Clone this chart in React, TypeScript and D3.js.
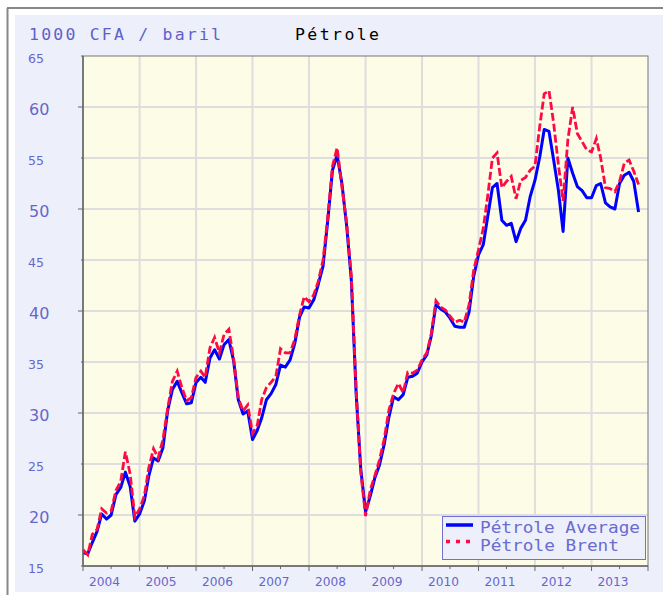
import * as d3 from "d3";

// monthly points, Jan 2004 .. Nov 2013
const months = d3.timeMonth.range(new Date(2004, 0, 1), new Date(2013, 11, 1));

const averageValues = [
  16.3, 16.2, 17.3, 18.4, 20.1, 19.6, 20.0, 22.0, 22.7, 24.2, 22.8, 19.4, // 2004
  20.1, 21.4, 23.8, 25.6, 25.3, 26.6, 30.2, 32.3, 33.1, 32.0, 30.9, 31.0, // 2005
  33.0, 33.5, 33.0, 35.4, 36.2, 35.3, 36.7, 37.2, 35.1, 31.3, 29.9, 30.2, // 2006
  27.4, 28.3, 29.5, 31.3, 31.9, 32.8, 34.7, 34.5, 35.2, 36.8, 39.4, 40.4, // 2007
  40.3, 41.1, 42.6, 44.4, 48.8, 53.8, 55.3, 52.5, 48.3, 43.0, 31.9, 24.5, // 2008
  20.3, 21.9, 23.6, 24.9, 26.9, 29.6, 31.6, 31.3, 31.8, 33.5, 33.6, 33.9, // 2009
  35.0, 35.7, 37.5, 40.6, 40.2, 39.9, 39.3, 38.5, 38.4, 38.4, 39.9, 43.4, // 2010
  45.5, 46.5, 49.2, 52.1, 52.5, 48.9, 48.4, 48.6, 46.8, 48.1, 48.9, 51.2, // 2011
  52.8, 55.1, 57.8, 57.6, 54.8, 51.8, 47.8, 55.0, 53.5, 52.2, 51.8, 51.1, // 2012
  51.1, 52.3, 52.5, 50.6, 50.2, 50.0, 52.5, 53.3, 53.6, 52.7, 49.7,       // 2013
];

const brentValues = [
  16.6, 16.1, 18.1, 18.6, 20.6, 20.2, 20.4, 22.4, 23.3, 26.2, 24.0, 19.8, // 2004
  20.6, 21.9, 24.6, 26.5, 25.6, 27.4, 30.4, 33.1, 34.1, 32.5, 31.2, 31.5, // 2005
  33.5, 34.1, 33.5, 36.4, 37.4, 35.9, 37.7, 38.2, 35.3, 31.5, 30.2, 30.8, // 2006
  28.0, 28.8, 31.3, 32.5, 33.0, 33.6, 36.3, 35.9, 35.9, 37.2, 39.6, 41.4, // 2007
  40.9, 41.6, 42.9, 45.0, 49.1, 54.2, 56.0, 52.2, 48.6, 43.4, 32.3, 24.2, // 2008
  19.9, 22.5, 23.8, 25.4, 27.4, 30.3, 31.9, 32.9, 32.0, 34.0, 33.9, 34.2, // 2009
  35.2, 35.9, 37.7, 41.0, 40.4, 40.1, 39.5, 38.9, 39.1, 38.9, 40.6, 44.0, // 2010
  46.0, 48.1, 51.2, 55.0, 55.5, 52.1, 52.7, 53.2, 51.0, 52.8, 53.1, 53.8, // 2011
  54.2, 58.1, 61.3, 61.6, 58.4, 54.3, 50.8, 56.8, 60.0, 57.4, 56.6, 55.8, // 2012
  55.6, 56.9, 55.0, 52.1, 52.0, 51.7, 52.7, 54.5, 54.8, 53.7, 52.4,       // 2013
];

const yearLabels = ["2004", "2005", "2006", "2007", "2008", "2009", "2010", "2011", "2012", "2013"];
const yTicks = [15, 20, 25, 30, 35, 40, 45, 50, 55, 60, 65];

const seriesNames = ["Pétrole Average", "Pétrole Brent"];

const TXT = "#6666cc";
const BLUE = "#0000ff";
const RED = "#ff0a45";

export default function App() {
  const width = 663, height = 595;
  const plot = {left: 83, right: 648, top: 56, bottom: 566};

  const x = d3.scaleTime()
    .domain([new Date(2004, 0, 1), new Date(2014, 0, 1)])
    .range([plot.left, plot.right]);
  const y = d3.scaleLinear().domain([15, 65]).range([plot.bottom, plot.top]);

  const line = d3.line<number>()
    .x((d, i) => x(months[i]))
    .y(d => y(d));

  const yearStarts = yearLabels.map(l => new Date(+l, 0, 1));
  const midYears = yearLabels.map(l => new Date(+l, 6, 1));

  return (
    <svg width={width} height={height}
         style={{position: "absolute", left: 0, top: 0, display: "block"}}>
      <rect x={0} y={0} width={width} height={height} fill="#fff"/>
      {/* outer frame */}
      <line x1={7.5} y1={8} x2={7.5} y2={height} stroke="#888" strokeWidth={2}/>
      <line x1={7} y1={8} x2={width} y2={8} stroke="#888" strokeWidth={2}/>
      <rect x={15} y={15} width={width - 15} height={577} fill="#edf0fa"/>

      {/* titles */}
      <text x={29} y={39.5} fontFamily="DejaVu Sans Mono" fontSize={16.5} fill="#6060c8"
            textLength={192} lengthAdjust="spacing">1000 CFA / baril</text>
      <text x={295} y={39.5} fontFamily="DejaVu Sans Mono" fontSize={16.5} fill="#000"
            textLength={84} lengthAdjust="spacing">Pétrole</text>

      {/* plot area */}
      <rect x={plot.left} y={plot.top} width={plot.right - plot.left} height={plot.bottom - plot.top}
            fill="#fdfce6"/>
      {yTicks.filter(t => t > 15 && t < 65).map(t => (
        <line key={"gy" + t} x1={plot.left} x2={plot.right} y1={y(t)} y2={y(t)}
              stroke="#dedede" strokeWidth={2}/>
      ))}
      {yearStarts.slice(1).map((d, i) => (
        <line key={"gx" + i} x1={x(d)} x2={x(d)} y1={plot.top} y2={plot.bottom}
              stroke="#dedede" strokeWidth={2}/>
      ))}
      <rect x={plot.left} y={plot.top} width={plot.right - plot.left} height={plot.bottom - plot.top}
            fill="none" stroke="#777" strokeWidth={1}/>

      {/* series */}
      <path d={line(averageValues) || ""} fill="none" stroke={BLUE} strokeWidth={3}
            strokeLinejoin="round"/>
      <path d={line(brentValues) || ""} fill="none" stroke={RED} strokeWidth={2.8}
            strokeDasharray="8,3"/>

      {/* y axis */}
      <line x1={plot.left} x2={plot.left} y1={plot.top} y2={plot.bottom} stroke="#666" strokeWidth={1.5}/>
      {yTicks.map(t => {
        const major = t % 10 === 0;
        return (
          <g key={"ty" + t}>
            <line x1={plot.left - (major ? 5 : 2)} x2={plot.left} y1={y(t)} y2={y(t)} stroke="#666"/>
            <text x={major ? 29 : 28} y={y(t) + 2} dominantBaseline="central"
                  fontFamily="DejaVu Sans" fontSize={major ? 16 : 12.5} fill={TXT}>{t}</text>
          </g>
        );
      })}

      {/* x axis */}
      <line x1={plot.left} x2={plot.right} y1={plot.bottom} y2={plot.bottom} stroke="#666" strokeWidth={1.5}/>
      {[...yearStarts, new Date(2014, 0, 1)].map((d, i) => (
        <line key={"tx" + i} x1={x(d)} x2={x(d)} y1={plot.bottom} y2={plot.bottom + 5} stroke="#666"/>
      ))}
      {midYears.map((d, i) => (
        <line key={"mx" + i} x1={x(d)} x2={x(d)} y1={plot.bottom} y2={plot.bottom + 3} stroke="#666"/>
      ))}
      {yearLabels.map((l, i) => (
        <text key={"lx" + l} x={x(yearStarts[i]) + 6} y={586} fontFamily="DejaVu Sans"
              fontSize={13} fill={TXT} textLength={31} lengthAdjust="spacingAndGlyphs">{l}</text>
      ))}

      {/* legend */}
      <rect x={442.5} y={516.5} width={203} height={43} fill="#edf0fa" stroke="#7070d0" strokeWidth={1}/>
      <line x1={446} x2={473} y1={525} y2={525} stroke={BLUE} strokeWidth={3.5}/>
      <line x1={446} x2={473} y1={541.5} y2={541.5} stroke={RED} strokeWidth={3.5} strokeDasharray="4,6"/>
      <text x={480} y={532.5} fontFamily="DejaVu Sans Mono" fontSize={15.2} fill="#6b6bd0"
            textLength={160} lengthAdjust="spacingAndGlyphs">{seriesNames[0]}</text>
      <text x={480} y={551} fontFamily="DejaVu Sans Mono" fontSize={15.2} fill="#6b6bd0"
            textLength={139} lengthAdjust="spacingAndGlyphs">{seriesNames[1]}</text>
    </svg>
  );
}
